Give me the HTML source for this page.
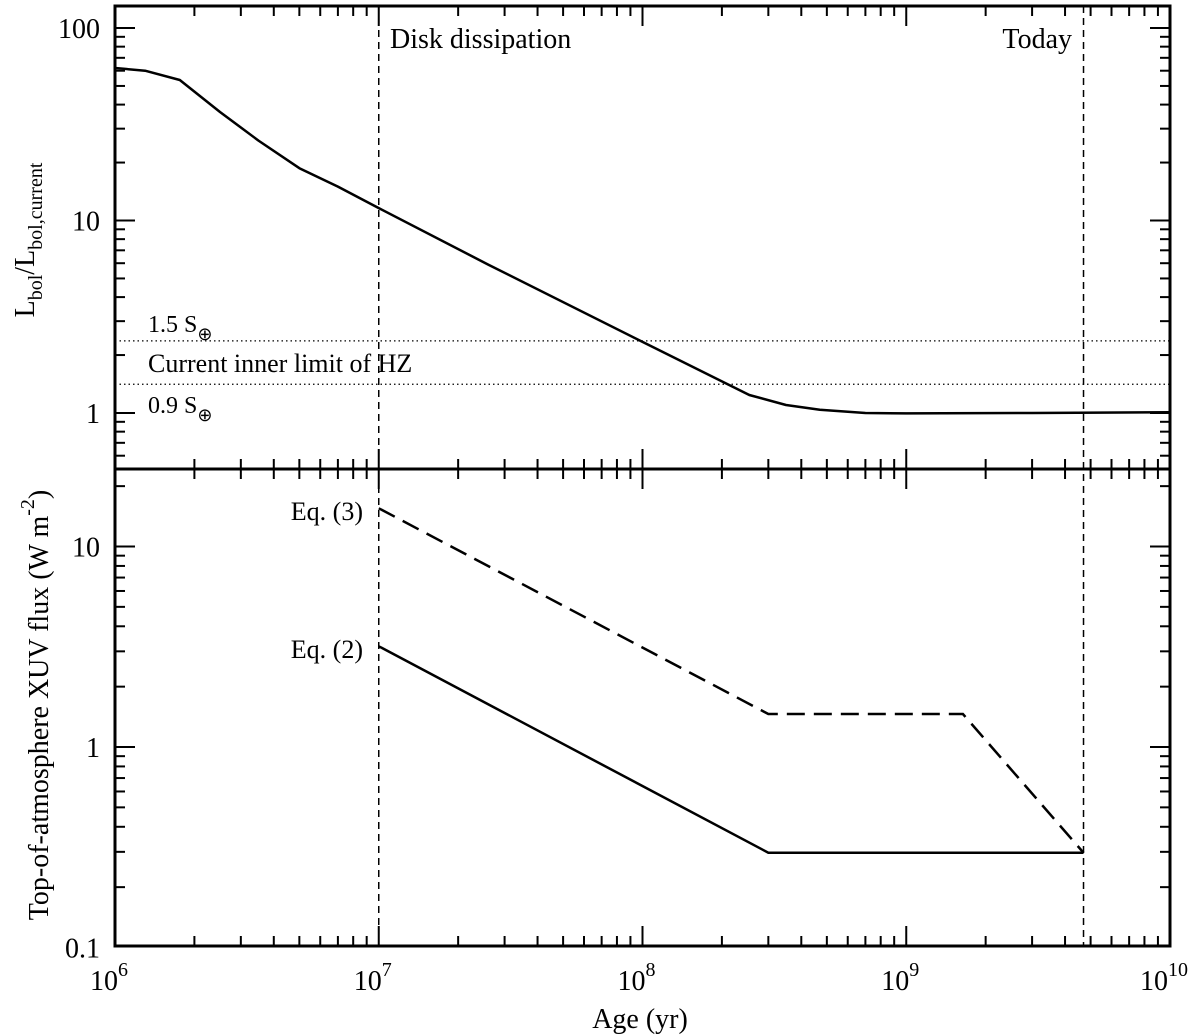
<!DOCTYPE html>
<html><head><meta charset="utf-8"><style>
html,body{margin:0;padding:0;background:#fff}
svg{display:block;font-family:"Liberation Serif",serif}
</style></head><body>
<svg id="chart" width="1200" height="1036" viewBox="0 0 1200 1036" xmlns="http://www.w3.org/2000/svg"></svg>
<script>
const lumAges = [1e6, 1.3e6, 1.76e6, 2.5e6, 3.5e6, 5e6, 7e6, 1e7, 2.6e7, 1e8, 2.54e8, 3.5e8, 4.7e8, 7e8, 1e9, 3e9, 1e10];
const lumValues = [62, 60, 53.7, 36.6, 26, 18.7, 15, 11.6, 5.9, 2.34, 1.24, 1.1, 1.04, 1.0, 0.995, 1.0, 1.01];
const eq3Ages = [1e7, 3e8, 1.64e9, 4.7e9];
const eq3Values = [15.5, 1.46, 1.46, 0.297];
const eq2Ages = [1e7, 3e8, 4.7e9];
const eq2Values = [3.18, 0.297, 0.297];
const hzLevels = [2.37, 1.41];
const eventAges = [1e7, 4.7e9];
const xTickExps = [6, 7, 8, 9, 10];
const topTickLabels = ["1", "10", "100"];
const botTickLabels = ["0.1", "1", "10"];

const NS = "http://www.w3.org/2000/svg";
const svg = document.getElementById("chart");
const L = 115, R = 1170, T1 = 6, B1 = 469, B2 = 946;
const x = v => L + (Math.log10(v) - 6) / 4 * (R - L);
const yTop = v => 413 - Math.log10(v) * 192.5;
const yBot = v => 747 - Math.log10(v) * 200.5;

function el(tag, attrs, parent) {
  const e = document.createElementNS(NS, tag);
  for (const k in attrs) e.setAttribute(k, attrs[k]);
  (parent || svg).appendChild(e);
  return e;
}
function txt(s, x0, y0, size, anchor, name) {
  const t = el("text", {x: x0, y: y0, "font-size": size, "text-anchor": anchor || "start"});
  t.textContent = s;
  
  
  return t;
}
function poly(xs, ys, fx, fy, attrs, name) {
  const pts = xs.map((a, i) => fx(a).toFixed(1) + "," + fy(ys[i]).toFixed(1)).join(" ");
  const p = el("polyline", Object.assign({points: pts, fill: "none", stroke: "#000"}, attrs));
  
  
  return p;
}

// ticks
const ticks = el("g", {stroke: "#000", "stroke-width": 2});


for (let e = 6; e < 10; e++) for (let m = 1; m <= 9; m++) {
  if (m === 1 && e === 6) continue;
  const xx = x(m * Math.pow(10, e)), len = m === 1 ? 20 : 10;
  [T1, B1, B2].forEach(yy => {
    if (yy !== B2) el("line", {x1: xx, y1: yy, x2: xx, y2: yy + len}, ticks);
    if (yy !== T1) el("line", {x1: xx, y1: yy, x2: xx, y2: yy - len}, ticks);
  });
}
function yTicks(fy, lo, hi, ylo, yhi) {
  for (let e = lo; e <= hi; e++) for (let m = 1; m <= 9; m++) {
    const v = m * Math.pow(10, e), yy = fy(v);
    if (yy < ylo + 1 || yy > yhi - 1) continue;
    const len = m === 1 ? 20 : 10;
    el("line", {x1: L, y1: yy, x2: L + len, y2: yy}, ticks);
    el("line", {x1: R, y1: yy, x2: R - len, y2: yy}, ticks);
  }
}
yTicks(yTop, -1, 2, T1, B1);
yTicks(yBot, -1, 1, B1, B2);

// frames
const f1 = el("rect", {x: L, y: T1, width: R - L, height: B1 - T1, fill: "none", stroke: "#000", "stroke-width": 3});
 
const f2 = el("rect", {x: L, y: B1, width: R - L, height: B2 - B1, fill: "none", stroke: "#000", "stroke-width": 3});
 

// event lines
eventAges.forEach((a, i) => {
  const l = el("line", {x1: x(a), y1: T1, x2: x(a), y2: B2, stroke: "#000", "stroke-width": 1.5, "stroke-dasharray": "7,5"});
  
  
});
// HZ lines
hzLevels.forEach((v, i) => {
  const l = el("line", {x1: L, y1: yTop(v), x2: R, y2: yTop(v), stroke: "#000", "stroke-width": 1.2, "stroke-dasharray": "1.5,3"});
  
  
});

poly(lumAges, lumValues, x, yTop, {"stroke-width": 2.5, "stroke-linejoin": "round"}, "luminosity-curve");
poly(eq3Ages, eq3Values, x, yBot, {"stroke-width": 2.5, "stroke-dasharray": "18,9"}, "eq3-line");
poly(eq2Ages, eq2Values, x, yBot, {"stroke-width": 2.5}, "eq2-line");

// tick labels
topTickLabels.forEach((s, i) => txt(s, 100, yTop(Math.pow(10, i)) + 10, 28, "end", "y-tick-top-" + s));
botTickLabels.forEach((s, i) => txt(s, 100, yBot(Math.pow(10, i - 1)) + 10, 28, "end", "y-tick-bottom-" + s));
xTickExps.forEach(e => {
  const t = txt("10", x(Math.pow(10, e)) - 6, 990, 28, "middle", "x-tick-1e" + e);
  const sup = el("tspan", {dy: -14, "font-size": 20}, t);
  sup.textContent = e;
});

// annotations
txt("Disk dissipation", 390, 48, 28, "start", "disk-dissipation-label");
txt("Today", 1072, 48, 28, "end", "today-label");
let t = txt("1.5 S", 148, 332, 24, "start", "hz-1.5-label");
let s = el("tspan", {dy: 8, "font-size": 18}, t); s.textContent = "\u2295";
txt("Current inner limit of HZ", 148, 372, 26, "start", "hz-label");
t = txt("0.9 S", 148, 413, 24, "start", "hz-0.9-label");
s = el("tspan", {dy: 8, "font-size": 18}, t); s.textContent = "\u2295";
txt("Eq. (3)", 363, 520, 26, "end", "eq3-label");
txt("Eq. (2)", 363, 658, 26, "end", "eq2-label");

// axis titles
txt("Age (yr)", 640, 1028, 28, "middle", "x-axis-title");
t = el("text", {transform: "translate(34,240) rotate(-90)", "font-size": 28, "text-anchor": "middle"});
 
t.innerHTML = 'L<tspan dy="8" font-size="20">bol</tspan><tspan dy="-8">/L</tspan><tspan dy="8" font-size="20">bol,current</tspan>';
t = el("text", {transform: "translate(48,705) rotate(-90)", "font-size": 28, "text-anchor": "middle"});
 
t.innerHTML = 'Top-of-atmosphere XUV flux (W m<tspan dy="-14" font-size="20">-2</tspan><tspan dy="14">)</tspan>';
</script>
</body></html>
